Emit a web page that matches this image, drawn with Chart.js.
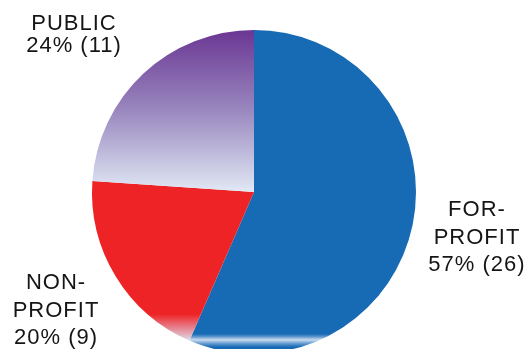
<!DOCTYPE html>
<html lang="en">
<head>
  <meta charset="UTF-8">
  <title>Institutions by Type</title>
  <script src="https://cdn.jsdelivr.net/npm/chart.js"></script>
  <style>
    html, body {
      margin: 0;
      padding: 0;
      background: #ffffff;
      overflow: hidden;
    }
    .chart-box {
      width: 529px;
      height: 360px;
    }
  </style>
</head>
<body>
  <div class="chart-box">
    <canvas id="typeChart"></canvas>
  </div>

  <script>
    const categories = ['FOR-PROFIT', 'NON-PROFIT', 'PUBLIC'];
    const counts = [26, 9, 11];
    const percents = [57, 20, 24];
    const labelLines = [['FOR-', 'PROFIT'], ['NON-', 'PROFIT'], ['PUBLIC']];

    // label anchor (center x, first baseline) and line height for each slice
    const labelPos = [
      { x: 477, y: 216, lh: 27.5 },
      { x: 56, y: 289, lh: 27.5 },
      { x: 74, y: 30, lh: 22 }
    ];

    function sliceFill(ctx) {
      const chart = ctx.chart;
      const area = chart.chartArea;
      const c = chart.ctx;
      const solid = ['#176ab4', '#ee2325', '#8a70b0'];
      if (!area) return solid[ctx.dataIndex];
      const top = area.top;
      const mid = (area.top + area.bottom) / 2;
      if (ctx.dataIndex === 2) {
        const g = c.createLinearGradient(0, top, 0, mid);
        g.addColorStop(0, '#6a3693');
        g.addColorStop(0.5, '#9a88bf');
        g.addColorStop(1, '#e1e9f5');
        return g;
      }
      if (ctx.dataIndex === 1) {
        const g = c.createLinearGradient(0, 314, 0, 342);
        g.addColorStop(0, '#ee2325');
        g.addColorStop(0.45, '#e77a86');
        g.addColorStop(1, '#dde7f3');
        return g;
      }
      const g = c.createLinearGradient(0, 334, 0, 347);
      g.addColorStop(0, '#176ab4');
      g.addColorStop(0.2, '#5d95cc');
      g.addColorStop(0.45, '#c9dcef');
      g.addColorStop(0.7, '#6fa1d3');
      g.addColorStop(1, '#176ab4');
      return g;
    }

    const sliceLabels = {
      id: 'sliceLabels',
      afterDraw(chart) {
        const c = chart.ctx;
        c.save();
        c.fillStyle = '#151515';
        c.font = '22px "Liberation Sans", Arial, sans-serif';
        c.letterSpacing = '1px';
        c.textAlign = 'center';
        c.textBaseline = 'alphabetic';
        categories.forEach((cat, i) => {
          const p = labelPos[i];
          const lines = labelLines[i].concat([percents[i] + '% (' + counts[i] + ')']);
          lines.forEach((t, k) => c.fillText(t, p.x, p.y + k * p.lh));
        });
        c.restore();
      }
    };

    new Chart(document.getElementById('typeChart'), {
      type: 'pie',
      data: {
        labels: categories,
        datasets: [{
          data: counts,
          backgroundColor: sliceFill,
          borderWidth: 0
        }]
      },
      options: {
        responsive: true,
        maintainAspectRatio: false,
        animation: false,
        layout: {
          padding: { left: 92, right: 113, top: 30, bottom: 6 }
        },
        plugins: {
          legend: { display: false },
          tooltip: { enabled: false }
        }
      },
      plugins: [sliceLabels]
    });
  </script>
</body>
</html>
